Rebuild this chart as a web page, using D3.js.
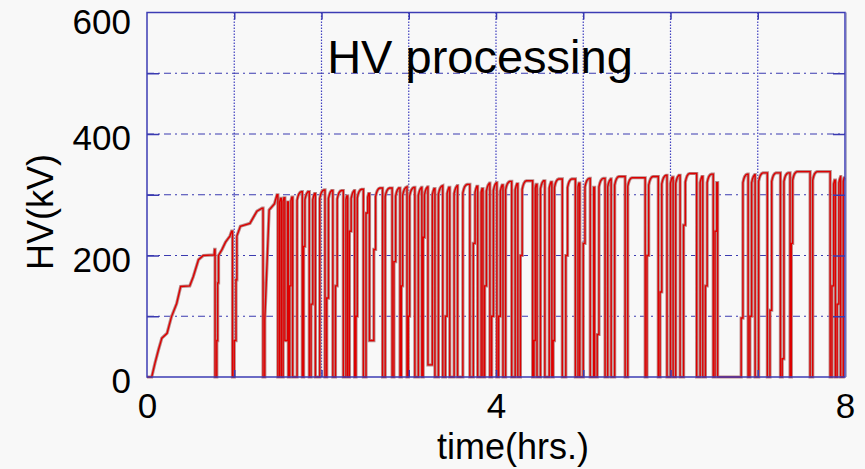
<!doctype html>
<html>
<head>
    <meta charset="utf-8">
    <title>HV processing</title>
    <script src="https://d3js.org/d3.v7.min.js"></script>
    <style>
        body { margin: 0; background: #f8f8f8; }
        text { font-family: 'Liberation Sans', Arial, sans-serif; fill: #000; }
    </style>
</head>
<body>
<div id="chart"></div>
<script>
    // start-up ramp, read point by point (hours, kV)
    var earlyT  = [0, 0.054, 0.09, 0.13, 0.17, 0.23, 0.28, 0.34, 0.386, 0.49, 0.53, 0.59, 0.645, 0.77, 0.775,
                   0.78, 0.78, 0.80, 0.80, 0.81, 0.81, 0.82, 0.82, 0.86, 0.90, 0.95, 0.97,
                   0.98, 0.98, 1.00, 1.00, 1.02, 1.02, 1.03, 1.03, 1.07, 1.18, 1.26, 1.32,
                   1.33, 1.33, 1.35, 1.35, 1.40, 1.46, 1.49];
    var earlyKV = [0, 0, 22, 44, 64, 72, 99, 121, 149, 150, 165, 193, 200, 201, 210,
                   210, 0, 0, 60, 60, 155, 155, 200, 210, 222, 232, 240,
                   240, 0, 0, 60, 60, 160, 160, 232, 248, 253, 273, 278,
                   278, 0, 0, 94, 275, 285, 300];

    // breakdowns after the ramp: time of trip, time spent down, lowest kV, intermediate step, level regained
    var tripT    = [1.50, 1.54, 1.58, 1.62, 1.67, 1.78, 1.86, 1.93, 2.04, 2.13,
                    2.25, 2.30, 2.38, 2.48, 2.55, 2.70, 2.81, 2.90, 2.98, 3.07,
                    3.15, 3.22, 3.30, 3.39, 3.47, 3.56, 3.70, 3.79, 3.85, 3.93,
                    4.01, 4.08, 4.18, 4.25, 4.42, 4.47, 4.56, 4.64, 4.76, 4.91,
                    4.96, 5.08, 5.13, 5.25, 5.32, 5.48, 5.71, 5.86, 5.96, 6.03,
                    6.11, 6.30, 6.37, 6.49, 6.54, 6.89, 6.97, 7.11, 7.26, 7.37,
                    7.60, 7.83, 7.89, 7.95];
    var tripDur  = [0.02, 0.02, 0.03, 0.03, 0.05, 0.03, 0.04, 0.05, 0.04, 0.05,
                    0.03, 0.04, 0.03, 0.05, 0.07, 0.03, 0.04, 0.03, 0.03, 0.04,
                    0.03, 0.05, 0.04, 0.05, 0.05, 0.06, 0.06, 0.04, 0.04, 0.04,
                    0.04, 0.03, 0.04, 0.05, 0.03, 0.04, 0.05, 0.03, 0.06, 0.03,
                    0.06, 0.04, 0.05, 0.03, 0.04, 0.03, 0.04, 0.04, 0.04, 0.03,
                    0.06, 0.04, 0.05, 0.04, 0.29, 0.04, 0.04, 0.05, 0.04, 0.03,
                    0.03, 0.04, 0.04, 0.03];
    var tripLow  = [0, 0, 60, 0, 0, 0, 0, 0, 0, 0,
                    0, 0, 0, 0, 60, 0, 0, 0, 0, 0,
                    0, 20, 0, 0, 0, 0, 0, 0, 0, 0,
                    0, 0, 0, 0, 0, 0, 0, 0, 0, 0,
                    0, 0, 0, 0, 0, 0, 0, 0, 0, 0,
                    0, 0, 0, 0, 0, 0, 0, 0, 0, 0,
                    0, 0, 0, 0];
    var tripMid  = [0, 0, 0, 150, 0, 215, 120, 0, 130, 150,
                    0, 240, 100, 270, 210, 0, 190, 150, 100, 0,
                    230, 0, 0, 100, 0, 0, 220, 0, 150, 100,
                    100, 0, 0, 200, 60, 0, 0, 60, 200, 0,
                    220, 0, 70, 0, 0, 0, 200, 140, 0, 0,
                    250, 0, 150, 240, 97, 100, 0, 110, 30, 220,
                    0, 150, 120, 0];
    var tripPeak = [302, 303, 302, 304, 305, 306, 306, 308, 308, 307,
                    306, 308, 309, 310, 311, 311, 312, 313, 312, 313,
                    314, 314, 315, 316, 316, 317, 318, 318, 320, 321,
                    320, 322, 322, 323, 325, 324, 325, 326, 326, 327,
                    327, 326, 327, 327, 330, 328, 330, 332, 333, 333,
                    335, 334, 334, 334, 334, 334, 336, 336, 336, 338,
                    338, 332, 334, 336];

    var xTickLabels = [0, 4, 8];
    var yTickLabels = [0, 200, 400, 600];
    var gridHours = [1, 2, 3, 4, 5, 6, 7];
    var gridKV = [100, 200, 300, 400, 500];

    // shape of the voltage recovering after a restart (hours after restart, kV below the level)
    var riseShape = [[0, -14], [0.01, -8], [0.02, -4], [0.035, -1], [0.05, 0]];

    var margin = { top: 12.5, right: 20, bottom: 92, left: 147 },
        W = 865, H = 469,
        width = W - margin.left - margin.right,
        height = H - margin.top - margin.bottom;

    var svg = d3.select("#chart").append("svg")
        .attr("width", W).attr("height", H);
    svg.append("rect").attr("width", W).attr("height", H).attr("fill", "#f8f8f8");

    var g = svg.append("g")
        .attr("transform", "translate(" + margin.left + "," + margin.top + ")");

    var x = d3.scaleLinear().domain([0, 8]).range([0, width]);
    var y = d3.scaleLinear().domain([0, 600]).range([height, 0]);

    // grid
    g.selectAll(".vgrid").data(gridHours).enter().append("line")
        .attr("x1", function (d) { return x(d); }).attr("x2", function (d) { return x(d); })
        .attr("y1", 0).attr("y2", height)
        .attr("stroke", "#4040c0").attr("stroke-width", 1.2)
        .attr("stroke-dasharray", "1.5,1.5");
    g.selectAll(".hgrid").data(gridKV).enter().append("line")
        .attr("x1", 0).attr("x2", width)
        .attr("y1", function (d) { return y(d); }).attr("y2", function (d) { return y(d); })
        .attr("stroke", "#3a3ab0").attr("stroke-width", 1)
        .attr("stroke-dasharray", "7,4,2,4");

    // build the trace
    var pts = earlyT.map(function (t, i) { return [t, earlyKV[i]]; });
    var level = earlyKV[earlyKV.length - 1];
    tripT.forEach(function (t, i) {
        var next = i + 1 < tripT.length ? tripT[i + 1] : 8;
        var back = t + tripDur[i];
        pts.push([t, level], [t, tripLow[i]]);
        if (tripMid[i] > 0) {
            var step = back - Math.min(tripDur[i] / 2, 0.02);
            pts.push([step, tripLow[i]], [step, tripMid[i]], [back, tripMid[i]]);
        } else {
            pts.push([back, tripLow[i]]);
        }
        riseShape.forEach(function (s) {
            if (back + s[0] < next) pts.push([back + s[0], tripPeak[i] + s[1]]);
        });
        level = pts[pts.length - 1][1];
    });
    pts.push([8, level]);

    var line = d3.line()
        .x(function (d) { return x(d[0]); })
        .y(function (d) { return y(d[1]); });

    g.append("path").datum(pts)
        .attr("d", line)
        .attr("fill", "none")
        .attr("stroke", "#b88a8a")
        .attr("stroke-width", 3.2);
    g.append("path").datum(pts)
        .attr("d", line)
        .attr("fill", "none")
        .attr("stroke", "#dd0000")
        .attr("stroke-width", 1.4);

    // tick marks pointing inward on all four sides
    g.append("g").call(d3.axisLeft(y).tickValues(gridKV).tickSize(-12).tickFormat(""));
    g.append("g").attr("transform", "translate(" + width + ",0)")
        .call(d3.axisRight(y).tickValues(gridKV).tickSize(-12).tickFormat(""));
    g.append("g").attr("transform", "translate(0," + height + ")")
        .call(d3.axisBottom(x).tickValues(gridHours).tickSize(-7).tickFormat(""));
    g.append("g").call(d3.axisTop(x).tickValues(gridHours).tickSize(-7).tickFormat(""));
    g.selectAll(".domain").remove();
    g.selectAll(".tick line").attr("stroke", "#3a3ab0").attr("stroke-width", 1.5);

    // frame
    g.append("rect")
        .attr("width", width).attr("height", height)
        .attr("fill", "none").attr("stroke", "#3c3cb4").attr("stroke-width", 1.5);
    g.append("line")
        .attr("x1", width + 1.5).attr("x2", width + 1.5).attr("y1", 0).attr("y2", height)
        .attr("stroke", "#b0b0c8").attr("stroke-width", 1);

    // tick labels
    var yl = g.append("g").call(d3.axisLeft(y).tickValues(yTickLabels).tickSize(0).tickPadding(16));
    var xl = g.append("g").attr("transform", "translate(0," + height + ")")
        .call(d3.axisBottom(x).tickValues(xTickLabels).tickSize(0).tickPadding(16));
    yl.select(".domain").remove();
    xl.select(".domain").remove();
    yl.selectAll("text").attr("font-size", 35).attr("font-family", null)
        .attr("dy", function (d) { return d === 600 ? "0.6em" : "0.45em"; });
    xl.selectAll("text").attr("font-size", 35).attr("font-family", null);

    // titles
    svg.append("text")
        .attr("x", 480).attr("y", 73)
        .attr("text-anchor", "middle")
        .attr("font-size", 47)
        .text("HV processing");
    svg.append("text")
        .attr("x", 513).attr("y", 459)
        .attr("text-anchor", "middle")
        .attr("font-size", 36)
        .text("time(hrs.)");
    svg.append("text")
        .attr("transform", "translate(53,212) rotate(-90)")
        .attr("text-anchor", "middle")
        .attr("font-size", 36)
        .text("HV(kV)");
</script>
</body>
</html>
